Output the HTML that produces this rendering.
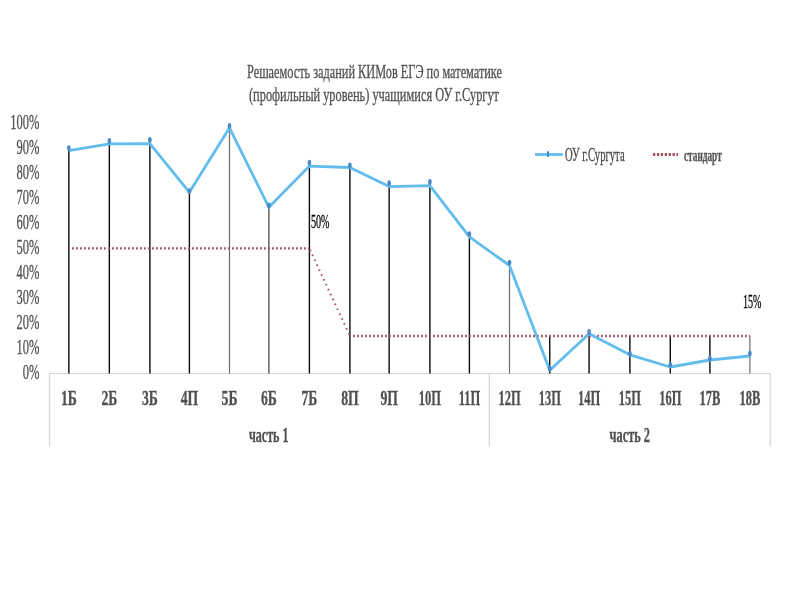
<!DOCTYPE html>
<html><head><meta charset="utf-8"><style>
html,body{margin:0;padding:0;background:#fff;width:800px;height:600px;overflow:hidden}
svg{display:block;font-family:"Liberation Serif",serif;filter:blur(0.35px)}
</style></head><body>
<svg width="800" height="600" viewBox="0 0 800 600">
<path d="M49.5 373.5H770.2M49.5 373.5V446.5M489.4 373.5V446.5M770.2 373.5V446.5" stroke="#d4d4d4" stroke-width="1.2" fill="none"/>
<path d="M68.85 148.50V373.5" stroke="#0a0a0a" stroke-width="1.4" stroke-opacity="1" fill="none"/>
<path d="M109.35 141.40V373.5" stroke="#0a0a0a" stroke-width="1.4" stroke-opacity="1" fill="none"/>
<path d="M149.90 140.20V373.5" stroke="#0a0a0a" stroke-width="1.4" stroke-opacity="1" fill="none"/>
<path d="M189.40 191.50V373.5" stroke="#0a0a0a" stroke-width="1.4" stroke-opacity="1" fill="none"/>
<path d="M229.50 126.30V373.5" stroke="#0a0a0a" stroke-width="1.2" stroke-opacity="0.6" fill="none"/>
<path d="M268.90 205.70V373.5" stroke="#0a0a0a" stroke-width="1.2" stroke-opacity="0.8" fill="none"/>
<path d="M309.40 163.00V373.5" stroke="#0a0a0a" stroke-width="1.4" stroke-opacity="1" fill="none"/>
<path d="M349.90 165.80V373.5" stroke="#0a0a0a" stroke-width="1.4" stroke-opacity="1" fill="none"/>
<path d="M389.15 183.60V373.5" stroke="#0a0a0a" stroke-width="1.4" stroke-opacity="1" fill="none"/>
<path d="M429.90 182.20V373.5" stroke="#0a0a0a" stroke-width="1.4" stroke-opacity="1" fill="none"/>
<path d="M469.40 234.50V373.5" stroke="#0a0a0a" stroke-width="1.4" stroke-opacity="1" fill="none"/>
<path d="M509.50 263.00V373.5" stroke="#0a0a0a" stroke-width="1.2" stroke-opacity="0.6" fill="none"/>
<path d="M549.75 336.00V373.5" stroke="#0a0a0a" stroke-width="1.4" stroke-opacity="1" fill="none"/>
<path d="M589.10 332.30V373.5" stroke="#0a0a0a" stroke-width="1.4" stroke-opacity="1" fill="none"/>
<path d="M629.90 336.00V373.5" stroke="#0a0a0a" stroke-width="1.4" stroke-opacity="1" fill="none"/>
<path d="M670.30 336.00V373.5" stroke="#0a0a0a" stroke-width="1.4" stroke-opacity="1" fill="none"/>
<path d="M709.90 336.00V373.5" stroke="#0a0a0a" stroke-width="1.4" stroke-opacity="1" fill="none"/>
<path d="M749.90 336.00V373.5" stroke="#0a0a0a" stroke-width="1.2" stroke-opacity="0.6" fill="none"/>
<path d="M68.85 248.4L309.40 248.4M349.90 336L749.90 336" stroke="#a44e5c" stroke-width="2.4" stroke-dasharray="1.8 2.2" stroke-dashoffset="0.85" fill="none"/>
<path d="M309.40 248.4L349.90 336" stroke="#a44e5c" stroke-width="2" stroke-dasharray="1.5 3.9" stroke-dashoffset="-1.5" fill="none"/>
<path d="M68.85 150.60 L109.35 143.80 L149.90 143.60 L189.40 192.30 L229.50 127.80 L268.90 207.30 L309.40 166.10 L349.90 167.50 L389.15 186.60 L429.90 185.70 L469.40 236.80 L509.50 265.50 L549.75 370.30 L589.10 333.70 L629.90 354.80 L670.30 367.00 L709.90 360.00 L749.90 356.00" stroke="#62bdec" stroke-width="2.8" fill="none" stroke-linejoin="round"/>
<ellipse cx="68.85" cy="148.10" rx="1.8" ry="2.9" fill="#4b8ac6"/>
<ellipse cx="109.35" cy="141.00" rx="1.8" ry="2.9" fill="#4b8ac6"/>
<ellipse cx="149.90" cy="139.80" rx="1.8" ry="2.9" fill="#4b8ac6"/>
<ellipse cx="189.40" cy="191.10" rx="1.8" ry="2.9" fill="#4b8ac6"/>
<ellipse cx="229.50" cy="125.90" rx="1.8" ry="2.9" fill="#4b8ac6"/>
<ellipse cx="268.90" cy="205.30" rx="1.8" ry="2.9" fill="#4b8ac6"/>
<ellipse cx="309.40" cy="162.60" rx="1.8" ry="2.9" fill="#4b8ac6"/>
<ellipse cx="349.90" cy="165.40" rx="1.8" ry="2.9" fill="#4b8ac6"/>
<ellipse cx="389.15" cy="183.20" rx="1.8" ry="2.9" fill="#4b8ac6"/>
<ellipse cx="429.90" cy="181.80" rx="1.8" ry="2.9" fill="#4b8ac6"/>
<ellipse cx="469.40" cy="234.10" rx="1.8" ry="2.9" fill="#4b8ac6"/>
<ellipse cx="509.50" cy="262.60" rx="1.8" ry="2.9" fill="#4b8ac6"/>
<ellipse cx="549.75" cy="368.70" rx="1.8" ry="2.9" fill="#4b8ac6"/>
<ellipse cx="589.10" cy="331.90" rx="1.8" ry="2.9" fill="#4b8ac6"/>
<ellipse cx="629.90" cy="353.60" rx="1.8" ry="2.9" fill="#4b8ac6"/>
<ellipse cx="670.30" cy="364.60" rx="1.8" ry="2.9" fill="#4b8ac6"/>
<ellipse cx="709.90" cy="358.50" rx="1.8" ry="2.9" fill="#4b8ac6"/>
<ellipse cx="749.90" cy="353.60" rx="1.8" ry="2.9" fill="#4b8ac6"/>
<text x="247" y="78" font-size="19.5" font-weight="normal" fill="#505050" stroke="#505050" stroke-width="0.3" textLength="255" lengthAdjust="spacingAndGlyphs" text-anchor="start" >Решаемость заданий КИМов ЕГЭ по математике</text>
<text x="249" y="101" font-size="19.5" font-weight="normal" fill="#505050" stroke="#505050" stroke-width="0.3" textLength="250" lengthAdjust="spacingAndGlyphs" text-anchor="start" >(профильный уровень) учащимися ОУ г.Сургут</text>
<text transform="translate(39.5 378.9) scale(0.625 1)" font-size="20" font-weight="normal" fill="#505050" stroke="#505050" stroke-width="0.3" text-anchor="end" >0%</text>
<text transform="translate(39.5 353.9) scale(0.625 1)" font-size="20" font-weight="normal" fill="#505050" stroke="#505050" stroke-width="0.3" text-anchor="end" >10%</text>
<text transform="translate(39.5 328.9) scale(0.625 1)" font-size="20" font-weight="normal" fill="#505050" stroke="#505050" stroke-width="0.3" text-anchor="end" >20%</text>
<text transform="translate(39.5 303.9) scale(0.625 1)" font-size="20" font-weight="normal" fill="#505050" stroke="#505050" stroke-width="0.3" text-anchor="end" >30%</text>
<text transform="translate(39.5 278.9) scale(0.625 1)" font-size="20" font-weight="normal" fill="#505050" stroke="#505050" stroke-width="0.3" text-anchor="end" >40%</text>
<text transform="translate(39.5 253.9) scale(0.625 1)" font-size="20" font-weight="normal" fill="#505050" stroke="#505050" stroke-width="0.3" text-anchor="end" >50%</text>
<text transform="translate(39.5 228.9) scale(0.625 1)" font-size="20" font-weight="normal" fill="#505050" stroke="#505050" stroke-width="0.3" text-anchor="end" >60%</text>
<text transform="translate(39.5 203.9) scale(0.625 1)" font-size="20" font-weight="normal" fill="#505050" stroke="#505050" stroke-width="0.3" text-anchor="end" >70%</text>
<text transform="translate(39.5 178.9) scale(0.625 1)" font-size="20" font-weight="normal" fill="#505050" stroke="#505050" stroke-width="0.3" text-anchor="end" >80%</text>
<text transform="translate(39.5 153.9) scale(0.625 1)" font-size="20" font-weight="normal" fill="#505050" stroke="#505050" stroke-width="0.3" text-anchor="end" >90%</text>
<text transform="translate(39.5 128.9) scale(0.625 1)" font-size="20" font-weight="normal" fill="#505050" stroke="#505050" stroke-width="0.3" text-anchor="end" >100%</text>
<text transform="translate(68.85 404.8) scale(0.67 1)" font-size="20.5" font-weight="bold" fill="#505050" stroke="#505050" stroke-width="0.3" text-anchor="middle" >1Б</text>
<text transform="translate(109.35 404.8) scale(0.67 1)" font-size="20.5" font-weight="bold" fill="#505050" stroke="#505050" stroke-width="0.3" text-anchor="middle" >2Б</text>
<text transform="translate(149.9 404.8) scale(0.67 1)" font-size="20.5" font-weight="bold" fill="#505050" stroke="#505050" stroke-width="0.3" text-anchor="middle" >3Б</text>
<text transform="translate(189.4 404.8) scale(0.67 1)" font-size="20.5" font-weight="bold" fill="#505050" stroke="#505050" stroke-width="0.3" text-anchor="middle" >4П</text>
<text transform="translate(229.5 404.8) scale(0.67 1)" font-size="20.5" font-weight="bold" fill="#505050" stroke="#505050" stroke-width="0.3" text-anchor="middle" >5Б</text>
<text transform="translate(268.9 404.8) scale(0.67 1)" font-size="20.5" font-weight="bold" fill="#505050" stroke="#505050" stroke-width="0.3" text-anchor="middle" >6Б</text>
<text transform="translate(309.4 404.8) scale(0.67 1)" font-size="20.5" font-weight="bold" fill="#505050" stroke="#505050" stroke-width="0.3" text-anchor="middle" >7Б</text>
<text transform="translate(349.9 404.8) scale(0.67 1)" font-size="20.5" font-weight="bold" fill="#505050" stroke="#505050" stroke-width="0.3" text-anchor="middle" >8П</text>
<text transform="translate(389.15 404.8) scale(0.67 1)" font-size="20.5" font-weight="bold" fill="#505050" stroke="#505050" stroke-width="0.3" text-anchor="middle" >9П</text>
<text transform="translate(429.9 404.8) scale(0.61 1)" font-size="20.5" font-weight="bold" fill="#505050" stroke="#505050" stroke-width="0.3" text-anchor="middle" >10П</text>
<text transform="translate(469.4 404.8) scale(0.61 1)" font-size="20.5" font-weight="bold" fill="#505050" stroke="#505050" stroke-width="0.3" text-anchor="middle" >11П</text>
<text transform="translate(509.5 404.8) scale(0.61 1)" font-size="20.5" font-weight="bold" fill="#505050" stroke="#505050" stroke-width="0.3" text-anchor="middle" >12П</text>
<text transform="translate(549.75 404.8) scale(0.61 1)" font-size="20.5" font-weight="bold" fill="#505050" stroke="#505050" stroke-width="0.3" text-anchor="middle" >13П</text>
<text transform="translate(589.1 404.8) scale(0.61 1)" font-size="20.5" font-weight="bold" fill="#505050" stroke="#505050" stroke-width="0.3" text-anchor="middle" >14П</text>
<text transform="translate(629.9 404.8) scale(0.61 1)" font-size="20.5" font-weight="bold" fill="#505050" stroke="#505050" stroke-width="0.3" text-anchor="middle" >15П</text>
<text transform="translate(670.3 404.8) scale(0.61 1)" font-size="20.5" font-weight="bold" fill="#505050" stroke="#505050" stroke-width="0.3" text-anchor="middle" >16П</text>
<text transform="translate(709.9 404.8) scale(0.61 1)" font-size="20.5" font-weight="bold" fill="#505050" stroke="#505050" stroke-width="0.3" text-anchor="middle" >17В</text>
<text transform="translate(749.9 404.8) scale(0.61 1)" font-size="20.5" font-weight="bold" fill="#505050" stroke="#505050" stroke-width="0.3" text-anchor="middle" >18В</text>
<text x="249" y="441.5" font-size="21" font-weight="bold" fill="#505050" stroke="#505050" stroke-width="0.3" textLength="39.5" lengthAdjust="spacingAndGlyphs" text-anchor="start" >часть 1</text>
<text x="609.5" y="441.5" font-size="21" font-weight="bold" fill="#505050" stroke="#505050" stroke-width="0.3" textLength="40.5" lengthAdjust="spacingAndGlyphs" text-anchor="start" >часть 2</text>
<text x="311" y="228" font-size="19" font-weight="normal" fill="#000" stroke="#000" stroke-width="0.3" textLength="18.5" lengthAdjust="spacingAndGlyphs" text-anchor="start" >50%</text>
<text x="743" y="307.7" font-size="19" font-weight="normal" fill="#000" stroke="#000" stroke-width="0.3" textLength="18.5" lengthAdjust="spacingAndGlyphs" text-anchor="start" >15%</text>
<path d="M535 154.5H562.7" stroke="#62bdec" stroke-width="2.8"/>
<rect x="547" y="151.3" width="2" height="5.6" fill="#4b8ac6"/>
<text x="565" y="160.7" font-size="17.8" font-weight="normal" fill="#4a4a4a" stroke="#4a4a4a" stroke-width="0.3" textLength="59.6" lengthAdjust="spacingAndGlyphs" text-anchor="start" >ОУ г.Сургута</text>
<path d="M653 154.6H678" stroke="#a44e5c" stroke-width="3" stroke-dasharray="2.3 1.6"/>
<text x="684" y="160.8" font-size="17" font-weight="bold" fill="#505050" stroke="#505050" stroke-width="0.3" textLength="37.7" lengthAdjust="spacingAndGlyphs" text-anchor="start" >стандарт</text>
</svg></body></html>
